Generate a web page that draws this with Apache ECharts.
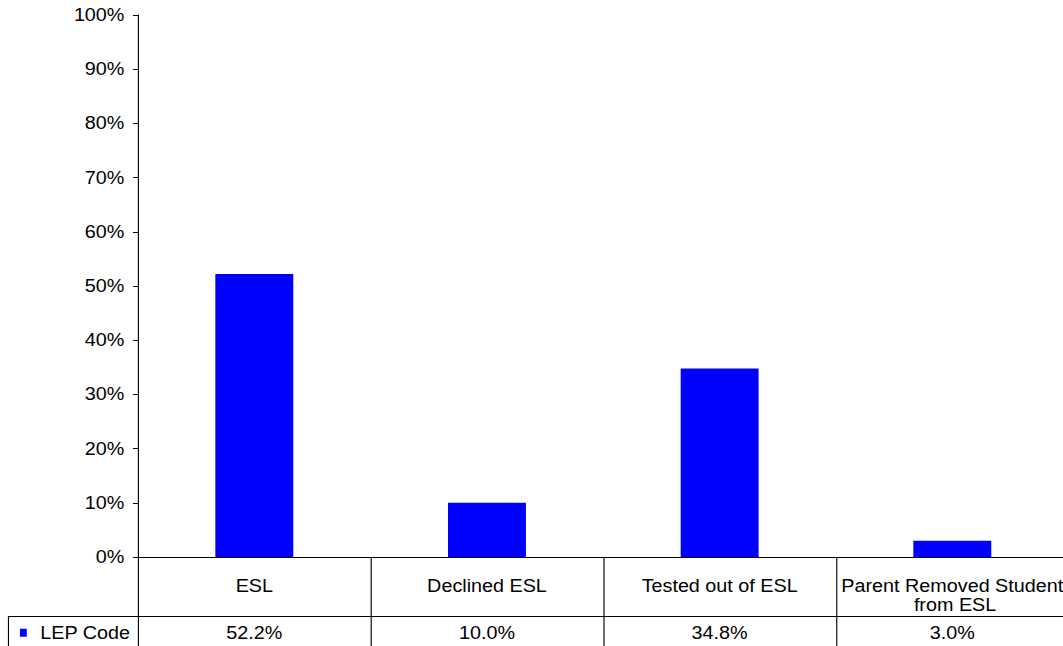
<!DOCTYPE html>
<html>
<head>
<meta charset="utf-8">
<script src="https://cdn.jsdelivr.net/npm/echarts@6/dist/echarts.min.js"></script>
<style>
  html, body { margin: 0; padding: 0; background: #fff; overflow: hidden; width: 1063px; height: 646px; }
  /* The chart is laid out narrower and stretched horizontally (wide text style). */
  #chart { width: 960px; height: 646px; transform: scaleX(1.13); transform-origin: 0 0; }
</style>
</head>
<body>
<div id="chart"></div>
<script>
// Data
const categories = ['ESL', 'Declined ESL', 'Tested out of ESL', 'Parent Removed Student from ESL'];
const seriesName = 'LEP Code';
const lepCode = [52.2, 10.0, 34.8, 3.0];
const yTicks = { min: 0, max: 100, interval: 10 };

// Layout (unstretched pixels)
const FONT = 'Liberation Sans, Arial, sans-serif';
const FS = 17.5;
const LH = 19.5;
const gridLeft = 122.1;
const gridTop = 15;
const gridHeight = 542;
const gridWidth = 823.6;
const tableRowOffset = 59;
const tableRowY = gridTop + gridHeight + tableRowOffset + 0.5;

const chart = echarts.init(document.getElementById('chart'), null, { renderer: 'svg' });

chart.setOption({
  animation: false,
  backgroundColor: '#fff',
  textStyle: { fontFamily: FONT, color: '#000' },
  grid: { left: gridLeft, top: gridTop, width: gridWidth, height: gridHeight, containLabel: false },
  legend: {
    data: [seriesName],
    left: 17.7,
    top: 623,
    padding: 0,
    icon: 'rect',
    itemWidth: 6,
    itemHeight: 8,
    selectedMode: false,
    textStyle: { fontFamily: FONT, fontSize: FS, color: '#000', lineHeight: LH, padding: [0, 0, 0, 7] }
  },
  xAxis: [
    {
      type: 'category',
      data: categories,
      position: 'bottom',
      axisLine: { show: true, lineStyle: { color: '#000', width: 1 } },
      axisTick: { show: true, length: 100, lineStyle: { color: '#000', width: 1 } },
      axisLabel: {
        interval: 0,
        margin: 19,
        fontFamily: FONT,
        fontSize: FS,
        lineHeight: LH,
        color: '#000',
        width: 200,
        overflow: 'break',
        verticalAlign: 'top'
      },
      splitLine: { show: false }
    },
    {
      type: 'category',
      data: lepCode.map(v => v.toFixed(1) + '%'),
      position: 'bottom',
      offset: tableRowOffset,
      axisLine: { show: true, lineStyle: { color: '#000', width: 1 } },
      axisTick: { show: false },
      axisLabel: {
        interval: 0,
        margin: 7,
        fontFamily: FONT,
        fontSize: FS,
        lineHeight: LH,
        color: '#000',
        verticalAlign: 'top'
      },
      splitLine: { show: false }
    }
  ],
  yAxis: {
    type: 'value',
    min: yTicks.min,
    max: yTicks.max,
    interval: yTicks.interval,
    axisLine: { show: true, lineStyle: { color: '#000', width: 1 } },
    axisTick: { show: true, length: 4.4, lineStyle: { color: '#000', width: 1 } },
    axisLabel: {
      formatter: '{value}%',
      margin: 12,
      fontFamily: FONT,
      fontSize: FS,
      color: '#000'
    },
    splitLine: { show: false }
  },
  // Left frame of the data table (legend cell)
  graphic: [
    {
      type: 'polyline',
      silent: true,
      shape: { points: [[7.5, 700], [7.5, tableRowY], [gridLeft, tableRowY]] },
      style: { stroke: '#000', lineWidth: 1, fill: null }
    }
  ],
  series: [
    {
      name: seriesName,
      type: 'bar',
      xAxisIndex: 0,
      data: lepCode,
      barWidth: '33.5%',
      itemStyle: { color: '#0000FF' }
    }
  ]
});
</script>
</body>
</html>
